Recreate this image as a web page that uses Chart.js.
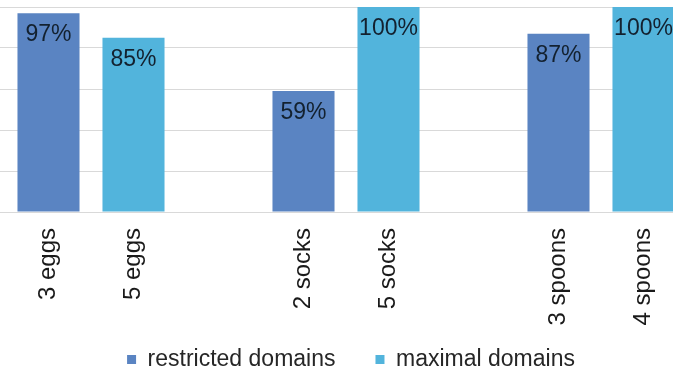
<!DOCTYPE html>
<html>
<head>
<meta charset="utf-8">
<script src="https://cdn.jsdelivr.net/npm/chart.js@4/dist/chart.umd.min.js"></script>
<style>
  html, body { margin: 0; padding: 0; background: #ffffff; overflow: hidden; width: 673px; height: 371px; }
  #wrap { position: absolute; left: 0; top: 0; width: 702px; height: 381px; }
</style>
</head>
<body>
<div id="wrap"><canvas id="chart" width="702" height="381"></canvas></div>
<script>
// Categories (empty strings leave a gap between the groups)
const categories = ['3 eggs', '5 eggs', '', '2 socks', '5 socks', '', '3 spoons', '4 spoons'];
// Share of participants (%) per condition
const restrictedDomains = [97, null, null, 59, null, null, 87, null];
const maximalDomains    = [null, 85, null, null, 100, null, null, 100];
const seriesNames = ['restricted domains', 'maximal domains'];
const yTicks = [0, 20, 40, 60, 80, 100];

const FONT = '"Liberation Sans", Arial, sans-serif';

// Writes each bar's value just inside its top edge
const valueLabels = {
  id: 'valueLabels',
  afterDatasetsDraw(chart) {
    const ctx = chart.ctx;
    ctx.save();
    ctx.font = '23px ' + FONT;
    ctx.fillStyle = '#13212f';
    ctx.textAlign = 'center';
    ctx.textBaseline = 'alphabetic';
    chart.data.datasets.forEach((ds, i) => {
      const meta = chart.getDatasetMeta(i);
      meta.data.forEach((bar, j) => {
        const v = ds.data[j];
        if (v === null || v === undefined) return;
        ctx.fillText(v + '%', bar.x, bar.y + 28);
      });
    });
    ctx.restore();
  }
};

// Long category names may run down past the compact x-axis box
const tickLabelRoom = {
  id: 'tickLabelRoom',
  afterLayout(chart) {
    chart.scales.x.bottom = chart.height;
  }
};

new Chart(document.getElementById('chart'), {
  type: 'bar',
  data: {
    labels: categories,
    datasets: [
      { label: seriesNames[0], data: restrictedDomains, backgroundColor: '#5a84c2', skipNull: true },
      { label: seriesNames[1], data: maximalDomains, backgroundColor: '#52b4dc', skipNull: true }
    ]
  },
  options: {
    responsive: false,
    animation: false,
    devicePixelRatio: 1,
    layout: { padding: { top: 7, left: 0, right: 0, bottom: 0 } },
    datasets: { bar: { barPercentage: 0.73, categoryPercentage: 1 } },
    plugins: {
      tooltip: { enabled: false },
      legend: {
        position: 'bottom',
        labels: {
          boxWidth: 9,
          boxHeight: 9,
          padding: 40,
          color: '#262626',
          font: { family: FONT, size: 23 }
        }
      }
    },
    scales: {
      x: {
        grid: { display: false, drawTicks: false },
        border: { display: true, color: '#d9d9d9' },
        ticks: {
          autoSkip: false,
          minRotation: 90,
          maxRotation: 90,
          padding: 16,
          color: '#1a1a1a',
          font: { family: FONT, size: 24 }
        },
        afterFit(scale) { scale.height = 96; }
      },
      y: {
        min: 0,
        max: 100,
        afterBuildTicks(scale) { scale.ticks = yTicks.map(v => ({ value: v })); },
        ticks: { display: false },
        grid: { color: '#d9d9d9', lineWidth: 1, drawTicks: true, tickLength: 6 },
        border: { display: false },
        afterFit(scale) { scale.width = 6; }
      },
      yRight: {
        position: 'right',
        display: true,
        ticks: { display: false },
        grid: { display: false, drawTicks: false },
        border: { display: false },
        afterFit(scale) { scale.width = 16; }
      }
    }
  },
  plugins: [valueLabels, tickLabelRoom]
});
</script>
</body>
</html>
